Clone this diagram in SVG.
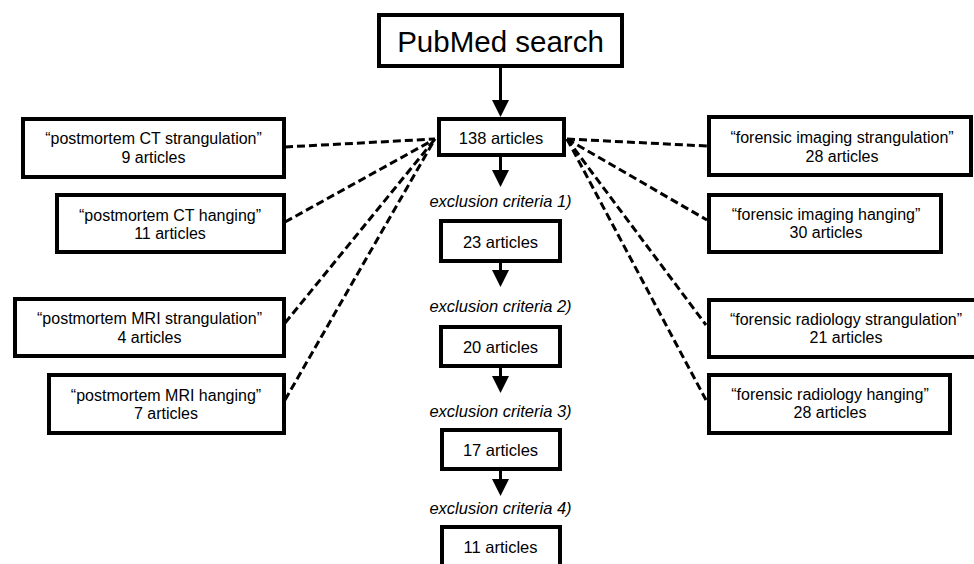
<svg xmlns="http://www.w3.org/2000/svg" width="974" height="564" viewBox="0 0 974 564">
<style>
  .box { fill: #ffffff; stroke: #000000; stroke-width: 4; }
  .t { font-family: "Liberation Sans", Arial, sans-serif; font-size: 16px; fill: #000000; text-anchor: middle; }
  .tc { font-family: "Liberation Sans", Arial, sans-serif; font-size: 16.5px; fill: #000000; text-anchor: middle; }
  .ex { font-family: "Liberation Sans", Arial, sans-serif; font-size: 16.5px; font-style: italic; fill: #000000; text-anchor: middle; }
  .title { font-family: "Liberation Sans", Arial, sans-serif; font-size: 29.5px; fill: #000000; text-anchor: middle; }
  .arrow { stroke: #000000; stroke-width: 3; fill: none; marker-end: url(#ah); }
  .dash { stroke: #000000; stroke-width: 3; fill: none; stroke-dasharray: 8 4; }
</style>
<defs>
  <marker id="ah" markerUnits="userSpaceOnUse" markerWidth="17" markerHeight="17" viewBox="0 0 17 17" refX="14" refY="8.5" orient="auto">
    <path d="M0,0 L17,8.5 L0,17 z" fill="#000000"/>
  </marker>
</defs>
<rect x="0" y="0" width="974" height="564" fill="#ffffff"/>

<g id="connectors">
  <line class="arrow" x1="500.5" y1="68" x2="500.5" y2="114"/>
  <line class="arrow" x1="500.5" y1="157" x2="500.5" y2="184"/>
  <line class="arrow" x1="500.5" y1="263" x2="500.5" y2="284"/>
  <line class="arrow" x1="500.5" y1="368" x2="500.5" y2="390"/>
  <line class="arrow" x1="500.5" y1="471" x2="500.5" y2="493"/>
  <line class="dash" x1="285" y1="147" x2="435" y2="139"/>
  <line class="dash" x1="285" y1="222" x2="435" y2="139"/>
  <line class="dash" x1="285" y1="323" x2="435" y2="139"/>
  <line class="dash" x1="285" y1="400" x2="435" y2="139"/>
  <line class="dash" x1="567" y1="139" x2="707" y2="146"/>
  <line class="dash" x1="567" y1="139" x2="707" y2="220"/>
  <line class="dash" x1="567" y1="139" x2="706" y2="325"/>
  <line class="dash" x1="567" y1="139" x2="706" y2="400"/>
</g>

<g id="pubmed">
  <rect class="box" x="379" y="15" width="243" height="51"/>
  <text class="title" x="500.5" y="52">PubMed search</text>
</g>

<g id="n138">
  <rect class="box" x="439" y="119" width="125" height="36"/>
  <text class="tc" x="501" y="144">138 articles</text>
</g>

<g id="ex1"><text class="ex" x="500.5" y="207">exclusion criteria 1)</text></g>
<g id="n23">
  <rect class="box" x="441" y="221" width="119" height="40"/>
  <text class="tc" x="500.5" y="248">23 articles</text>
</g>
<g id="ex2"><text class="ex" x="500.5" y="312">exclusion criteria 2)</text></g>
<g id="n20">
  <rect class="box" x="441" y="327" width="119" height="39"/>
  <text class="tc" x="500.5" y="353">20 articles</text>
</g>
<g id="ex3"><text class="ex" x="500.5" y="417">exclusion criteria 3)</text></g>
<g id="n17">
  <rect class="box" x="442" y="430" width="118" height="39"/>
  <text class="tc" x="500.5" y="456">17 articles</text>
</g>
<g id="ex4"><text class="ex" x="500.5" y="514">exclusion criteria 4)</text></g>
<g id="n11">
  <rect class="box" x="442" y="527" width="118" height="45"/>
  <text class="tc" x="500.5" y="553">11 articles</text>
</g>

<g id="l1">
  <rect class="box" x="23" y="119" width="261" height="58"/>
  <text class="t" x="153.5" y="144">“postmortem CT strangulation”</text>
  <text class="t" x="153.5" y="163">9 articles</text>
</g>
<g id="l2">
  <rect class="box" x="57" y="195" width="227" height="57"/>
  <text class="t" x="170" y="221">“postmortem CT hanging”</text>
  <text class="t" x="170" y="239">11 articles</text>
</g>
<g id="l3">
  <rect class="box" x="15" y="299" width="269" height="57"/>
  <text class="t" x="149.5" y="324">“postmortem MRI strangulation”</text>
  <text class="t" x="149.5" y="343">4 articles</text>
</g>
<g id="l4">
  <rect class="box" x="49" y="375" width="235" height="58"/>
  <text class="t" x="166" y="401">“postmortem MRI hanging”</text>
  <text class="t" x="166" y="419">7 articles</text>
</g>

<g id="r1">
  <rect class="box" x="709" y="117" width="262" height="58"/>
  <text class="t" x="842" y="143">“forensic imaging strangulation”</text>
  <text class="t" x="842" y="162">28 articles</text>
</g>
<g id="r2">
  <rect class="box" x="709" y="195" width="232" height="57"/>
  <text class="t" x="826" y="220">“forensic imaging hanging”</text>
  <text class="t" x="826" y="238">30 articles</text>
</g>
<g id="r3">
  <rect class="box" x="709" y="300" width="268" height="57"/>
  <text class="t" x="846" y="325">“forensic radiology strangulation”</text>
  <text class="t" x="846" y="343">21 articles</text>
</g>
<g id="r4">
  <rect class="box" x="709" y="375" width="241" height="58"/>
  <text class="t" x="830" y="400">“forensic radiology hanging”</text>
  <text class="t" x="830" y="418">28 articles</text>
</g>
</svg>
